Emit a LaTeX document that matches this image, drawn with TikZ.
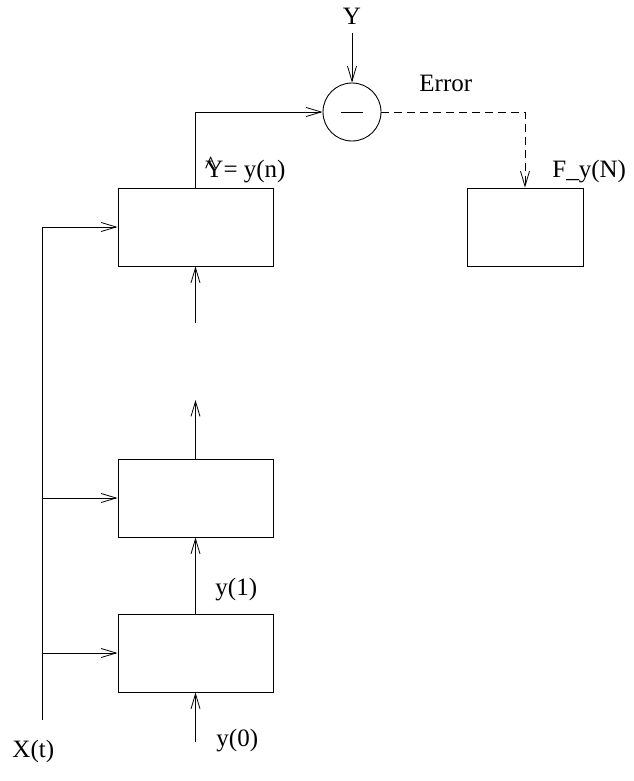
\documentclass[tikz,border=0pt]{standalone}
\usepackage{fontspec}
\setmainfont{Liberation Serif}
\usetikzlibrary{arrows.meta}
\begin{document}
\begin{tikzpicture}[x=1pt,y=-1pt,
  line width=0.9pt,
  arr/.style={-{Straight Barb[length=15pt,width=9pt,line width=0.8pt]}},
  blk/.style={draw,line width=0.9pt,minimum width=155pt,minimum height=78pt,inner sep=0pt},
  lbl/.style={font=\fontsize{25}{29}\selectfont,inner sep=0pt,anchor=base west}]
\useasboundingbox (0,0) rectangle (633,781);
% blocks
\node[blk] (b3) at (195.5,227) {};
\node[blk] (b2) at (195.5,498) {};
\node[blk] (b1) at (195.5,653) {};
\node[blk,minimum width=116pt] (f) at (525,227) {};
% summing junction
\node[draw,circle,minimum size=58pt,inner sep=0pt,line width=0.9pt] (s) at (352,112) {};
\draw (s.center) ++(-11,0) -- ++(22,0);
% coordinates
\coordinate (ytop) at (352,33);
\coordinate (xbot) at (42,720);
\coordinate (xtop) at (42,227);
\coordinate (x2) at (42,498);
\coordinate (x1) at (42,653);
\coordinate (in0) at (195.5,742);
\coordinate (dotsA) at (195.5,323);
\coordinate (dotsB) at (195.5,400);
\coordinate (corner) at (195.5,112);
\coordinate (dcorner) at (525,112);
% connectors
\draw[arr] (ytop) -- (s.north);
\draw[arr] (b3.north) -- (corner) -- (s.west);
\draw[arr,dashed,dash pattern=on 8pt off 5pt] (s.east) -- (dcorner) -- (f.north);
\draw (xbot) -- (xtop);
\draw[arr] (xtop) -- (b3.west);
\draw[arr] (x2) -- (b2.west);
\draw[arr] (x1) -- (b1.west);
\draw[arr] (in0) -- (b1.south);
\draw[arr] (b1.north) -- (b2.south);
\draw[arr] (b2.north) -- (dotsB);
\draw[arr] (dotsA) -- (b3.south);
% labels
\node[lbl,anchor=base] (tY) at (352,25) {Y};
\node[lbl] (tErr) at (419,92) {Error};
\node[lbl] (tYn) at (205,177) {\makebox[0pt][l]{\kern-0.5pt\raisebox{4pt}{\fontsize{25}{29}\selectfont\^{}}}Y= y(n)};
\node[lbl] (tF) at (552,177) {F\_y(N)};
\node[lbl] (t1) at (215,595) {y(1)};
\node[lbl] (t0) at (216,746) {y(0)};
\node[lbl] (tX) at (12,757) {X(t)};
\end{tikzpicture}
\end{document}
